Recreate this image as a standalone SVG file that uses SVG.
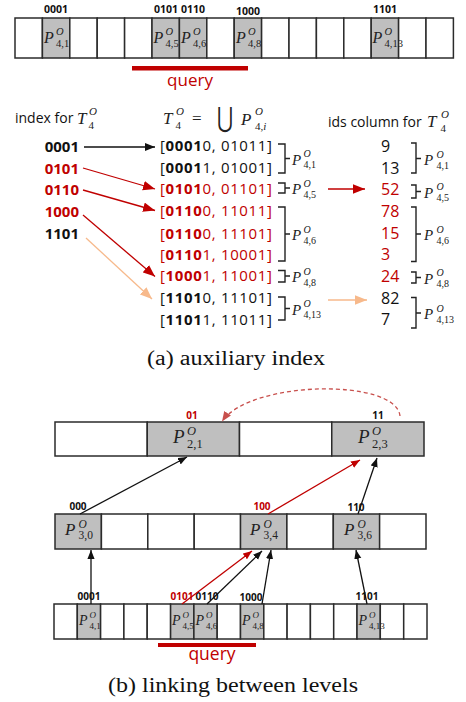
<svg xmlns="http://www.w3.org/2000/svg" width="466" height="702" viewBox="0 0 466 702">
  <style>
    .bg { fill: #ffffff; }
    .cell { fill: #ffffff; stroke: #2b2b2b; stroke-width: 1.5; }
    .cell.g { fill: #bfbfbf; }
    .bits { font-family: 'Open Sans', 'Liberation Sans', sans-serif; font-weight: bold; fill: #111; text-anchor: middle; }
    .mP { font-family: 'Liberation Serif', serif; font-style: italic; fill: #222; }
    .mS { font-family: 'Liberation Serif', serif; fill: #222; }
    .mO { font-family: 'Liberation Serif', serif; font-style: italic; fill: #222; }
    .sans { font-family: 'Open Sans', 'Liberation Sans', sans-serif; fill: #111; }
    .key { font-family: 'Open Sans', 'Liberation Sans', sans-serif; font-weight: bold; font-size: 15px; text-anchor: end; fill: #111; }
    .row { font-family: 'Open Sans', 'Liberation Sans', sans-serif; font-size: 15px; fill: #111; }
    .row .b { font-weight: bold; }
    .id { font-family: 'Open Sans', 'Liberation Sans', sans-serif; font-size: 16px; fill: #111; }
    .brk { fill: none; stroke: #222; stroke-width: 1.4; }
    .cap { font-family: 'Liberation Serif', serif; font-size: 20px; fill: #111; text-anchor: middle; }
    .ln { fill: none; stroke-width: 1.3; }
    .k { stroke: #111; }
    .r { stroke: #c00000; }
    .o { stroke: #f7b98b; }
    text.red { fill: #c00000; }
  </style>
  <defs>
    <marker id="hk" viewBox="0 0 10 8" refX="10" refY="4" markerWidth="10" markerHeight="8" markerUnits="userSpaceOnUse" orient="auto"><path d="M0,0 L10,4 L0,8 z" fill="#111"/></marker>
    <marker id="hr" viewBox="0 0 10 8" refX="10" refY="4" markerWidth="12" markerHeight="10" markerUnits="userSpaceOnUse" orient="auto"><path d="M0,0 L10,4 L0,8 z" fill="#c00000"/></marker>
    <marker id="ho" viewBox="0 0 10 8" refX="10" refY="4" markerWidth="12" markerHeight="10" markerUnits="userSpaceOnUse" orient="auto"><path d="M0,0 L10,4 L0,8 z" fill="#f7b98b"/></marker>
    <marker id="sk" viewBox="0 0 10 8" refX="10" refY="4" markerWidth="9" markerHeight="8" markerUnits="userSpaceOnUse" orient="auto"><path d="M0,0 L10,4 L0,8 z" fill="#111"/></marker>
    <marker id="sr" viewBox="0 0 10 8" refX="10" refY="4" markerWidth="9" markerHeight="8" markerUnits="userSpaceOnUse" orient="auto"><path d="M0,0 L10,4 L0,8 z" fill="#c00000"/></marker>
    <marker id="sd" viewBox="0 0 10 8" refX="10" refY="4" markerWidth="10" markerHeight="9" markerUnits="userSpaceOnUse" orient="auto"><path d="M0,0 L10,4 L0,8 z" fill="#c8504d"/></marker>
  </defs>
  <rect class="bg" x="0" y="0" width="466" height="702"/>

  <!-- (a) level-4 partition array -->
  <g id="top-array">
    <rect class="cell" x="15" y="18" width="27.4" height="40"/>
    <rect class="cell g" x="42.4" y="18" width="27.4" height="40"/>
    <rect class="cell" x="69.8" y="18" width="27.4" height="40"/>
    <rect class="cell" x="97.2" y="18" width="27.4" height="40"/>
    <rect class="cell" x="124.6" y="18" width="27.4" height="40"/>
    <rect class="cell g" x="152" y="18" width="27.4" height="40"/>
    <rect class="cell g" x="179.4" y="18" width="27.4" height="40"/>
    <rect class="cell" x="206.8" y="18" width="27.4" height="40"/>
    <rect class="cell g" x="234.2" y="18" width="27.4" height="40"/>
    <rect class="cell" x="261.6" y="18" width="27.4" height="40"/>
    <rect class="cell" x="289" y="18" width="27.4" height="40"/>
    <rect class="cell" x="316.4" y="18" width="27.4" height="40"/>
    <rect class="cell" x="343.8" y="18" width="27.4" height="40"/>
    <rect class="cell g" x="371.2" y="18" width="27.4" height="40"/>
    <rect class="cell" x="398.6" y="18" width="27.4" height="40"/>
    <rect class="cell" x="426" y="18" width="27.4" height="40"/>

    <text class="bits" font-size="10.5" x="56" y="13">0001</text>
    <text class="bits" font-size="10.5" x="166" y="13">0101</text>
    <text class="bits" font-size="10.5" x="193" y="13">0110</text>
    <text class="bits" font-size="10.5" x="248" y="15">1000</text>
    <text class="bits" font-size="10.5" x="385" y="13">1101</text>

    <text class="mP" font-size="16" x="44" y="43">P</text><text class="mO" font-size="10.5" x="56" y="35">O</text><text class="mS" font-size="10.5" x="56" y="47">4,1</text>
    <text class="mP" font-size="16" x="153.5" y="43">P</text><text class="mO" font-size="10.5" x="165.5" y="35">O</text><text class="mS" font-size="10.5" x="165.5" y="47">4,5</text>
    <text class="mP" font-size="16" x="181" y="43">P</text><text class="mO" font-size="10.5" x="193" y="35">O</text><text class="mS" font-size="10.5" x="193" y="47">4,6</text>
    <text class="mP" font-size="16" x="236" y="43">P</text><text class="mO" font-size="10.5" x="248" y="35">O</text><text class="mS" font-size="10.5" x="248" y="47">4,8</text>
    <text class="mP" font-size="16" x="372.5" y="43">P</text><text class="mO" font-size="10.5" x="384.5" y="35">O</text><text class="mS" font-size="10.5" x="384.5" y="47">4,13</text>
  </g>
  <g id="top-query">
    <rect x="132" y="66" width="116" height="4.5" fill="#c00000"/>
    <text class="sans red" font-size="17" x="190" y="86" text-anchor="middle">query</text>
  </g>

  <!-- (a) headers -->
  <g id="hdr-index">
    <text class="sans" font-size="14" x="15" y="123">index for</text>
    <text class="mP" font-size="17" x="77" y="124">T</text><text class="mO" font-size="11" x="89" y="115">O</text><text class="mS" font-size="11" x="88.5" y="129">4</text>
  </g>
  <g id="hdr-union">
    <text class="mP" font-size="17" x="163" y="124">T</text><text class="mO" font-size="11" x="176" y="115">O</text><text class="mS" font-size="11" x="175.5" y="129">4</text>
    <text class="mS" font-size="17" x="192" y="124">=</text>
    <text transform="translate(217,127) scale(0.7,1)" font-family="'DejaVu Sans', sans-serif" font-size="28" fill="#222">⋃</text>
    <text class="mP" font-size="17" x="241" y="125">P</text><text class="mO" font-size="11" x="255" y="115">O</text><text class="mS" font-size="11" x="255" y="130">4,<tspan font-style="italic">i</tspan></text>
  </g>
  <g id="hdr-ids">
    <text class="sans" font-size="14" x="328" y="127">ids column for</text>
    <text class="mP" font-size="17" x="427" y="127">T</text><text class="mO" font-size="11" x="441" y="118">O</text><text class="mS" font-size="11" x="440.5" y="132">4</text>
  </g>

  <!-- (a) index keys -->
  <g id="keys">
    <text class="key" x="79" y="152">0001</text>
    <text class="key red" x="79" y="173.5">0101</text>
    <text class="key red" x="79" y="195">0110</text>
    <text class="key red" x="79" y="217">1000</text>
    <text class="key" x="79" y="239">1101</text>
  </g>

  <!-- (a) ranges of T4 -->
  <g id="ranges">
    <text class="row" x="160" y="151" textLength="112">[<tspan class="b">0001</tspan>0, 01011]</text>
    <text class="row" x="160" y="172.7" textLength="112">[<tspan class="b">0001</tspan>1, 01001]</text>
    <text class="row red" x="160" y="194.4" textLength="112">[<tspan class="b">0101</tspan>0, 01101]</text>
    <text class="row red" x="160" y="216.1" textLength="112">[<tspan class="b">0110</tspan>0, 11011]</text>
    <text class="row red" x="160" y="238.5" textLength="112">[<tspan class="b">0110</tspan>0, 11101]</text>
    <text class="row red" x="160" y="259.8" textLength="112">[<tspan class="b">0110</tspan>1, 10001]</text>
    <text class="row red" x="160" y="281.2" textLength="112">[<tspan class="b">1000</tspan>1, 11001]</text>
    <text class="row" x="160" y="303.2" textLength="112">[<tspan class="b">1101</tspan>0, 11101]</text>
    <text class="row" x="160" y="324.6" textLength="112">[<tspan class="b">1101</tspan>1, 11011]</text>
  </g>
  <g id="range-groups">
    <path class="brk" d="M278,144 H285 V173 H278 M285,158.5 H290"/>
    <path class="brk" d="M278,183 H285 V193 H278 M285,188 H290"/>
    <path class="brk" d="M278,207 H285 V261 H278 M285,234 H290"/>
    <path class="brk" d="M278,270.5 H285 V282 H278 M285,276 H290"/>
    <path class="brk" d="M278,297 H285 V320 H278 M285,308.5 H290"/>
    <text class="mP" font-size="15" x="292" y="164.5">P</text><text class="mO" font-size="10" x="303.5" y="157">O</text><text class="mS" font-size="10" x="303.5" y="168">4,1</text>
    <text class="mP" font-size="15" x="292" y="194">P</text><text class="mO" font-size="10" x="303.5" y="186.5">O</text><text class="mS" font-size="10" x="303.5" y="197.5">4,5</text>
    <text class="mP" font-size="15" x="292" y="240">P</text><text class="mO" font-size="10" x="303.5" y="232.5">O</text><text class="mS" font-size="10" x="303.5" y="243.5">4,6</text>
    <text class="mP" font-size="15" x="292" y="282">P</text><text class="mO" font-size="10" x="303.5" y="274.5">O</text><text class="mS" font-size="10" x="303.5" y="285.5">4,8</text>
    <text class="mP" font-size="15" x="292" y="314.5">P</text><text class="mO" font-size="10" x="303.5" y="307">O</text><text class="mS" font-size="10" x="303.5" y="318">4,13</text>
  </g>

  <!-- (a) ids column -->
  <g id="ids">
    <text class="id" x="381" y="152">9</text>
    <text class="id" x="381" y="173.5">13</text>
    <text class="id red" x="381" y="195">52</text>
    <text class="id red" x="381" y="216.5">78</text>
    <text class="id red" x="381" y="238.5">15</text>
    <text class="id red" x="381" y="260">3</text>
    <text class="id red" x="381" y="281.5">24</text>
    <text class="id" x="381" y="303.5">82</text>
    <text class="id" x="381" y="325">7</text>
  </g>
  <g id="id-groups">
    <path class="brk" d="M411,143 H416 V173 H411 M416,158.5 H421"/>
    <path class="brk" d="M411,185 H416 V198 H411 M416,191.5 H421"/>
    <path class="brk" d="M411,207 H416 V261.5 H411 M416,234 H421"/>
    <path class="brk" d="M411,272 H416 V283 H411 M416,277.5 H421"/>
    <path class="brk" d="M411,297.5 H416 V328 H411 M416,313 H421"/>
    <text class="mP" font-size="15" x="424" y="165">P</text><text class="mO" font-size="10" x="436.5" y="157.5">O</text><text class="mS" font-size="10" x="436.5" y="168.5">4,1</text>
    <text class="mP" font-size="15" x="424" y="197.5">P</text><text class="mO" font-size="10" x="436.5" y="190">O</text><text class="mS" font-size="10" x="436.5" y="201">4,5</text>
    <text class="mP" font-size="15" x="424" y="240">P</text><text class="mO" font-size="10" x="436.5" y="232.5">O</text><text class="mS" font-size="10" x="436.5" y="243.5">4,6</text>
    <text class="mP" font-size="15" x="424" y="283.5">P</text><text class="mO" font-size="10" x="436.5" y="276">O</text><text class="mS" font-size="10" x="436.5" y="287">4,8</text>
    <text class="mP" font-size="15" x="424" y="319">P</text><text class="mO" font-size="10" x="436.5" y="311.5">O</text><text class="mS" font-size="10" x="436.5" y="322.5">4,13</text>
  </g>

  <!-- (a) lookup arrows -->
  <g id="index-connectors">
    <line class="ln k" x1="84" y1="147" x2="155" y2="147" marker-end="url(#hk)"/>
    <line class="ln r" x1="83" y1="168" x2="155" y2="189" marker-end="url(#hr)"/>
    <line class="ln r" x1="83" y1="190" x2="155" y2="210.5" marker-end="url(#hr)"/>
    <line class="ln r" x1="83" y1="215" x2="155" y2="276.5" marker-end="url(#hr)"/>
    <line class="ln o" x1="86" y1="238" x2="152" y2="299" marker-end="url(#ho)"/>
    <line class="ln r" x1="328" y1="189" x2="365" y2="189" marker-end="url(#hr)"/>
    <line class="ln o" x1="328" y1="300" x2="367" y2="300" marker-end="url(#ho)"/>
  </g>

  <text class="cap" x="236" y="365" textLength="178" lengthAdjust="spacingAndGlyphs">(a) auxiliary index</text>

  <!-- (b) level 2 -->
  <g id="level2">
    <rect class="cell" x="55" y="422" width="92.25" height="34"/>
    <rect class="cell g" x="147.25" y="422" width="92.25" height="34"/>
    <rect class="cell" x="239.5" y="422" width="92.25" height="34"/>
    <rect class="cell g" x="331.75" y="422" width="92.25" height="34"/>
    <text class="bits red" font-size="10" x="192" y="419">01</text>
    <text class="bits" font-size="10" x="378" y="419">11</text>
    <text class="mP" font-size="19" x="173" y="443">P</text><text class="mO" font-size="12.5" x="187" y="435">O</text><text class="mS" font-size="12.5" x="187" y="448">2,1</text>
    <text class="mP" font-size="19" x="358" y="443">P</text><text class="mO" font-size="12.5" x="372" y="435">O</text><text class="mS" font-size="12.5" x="372" y="448">2,3</text>
  </g>

  <!-- (b) level 3 -->
  <g id="level3">
    <rect class="cell g" x="55" y="514" width="46.4" height="35"/>
    <rect class="cell" x="101.4" y="514" width="46.4" height="35"/>
    <rect class="cell" x="147.8" y="514" width="46.4" height="35"/>
    <rect class="cell" x="194.2" y="514" width="46.4" height="35"/>
    <rect class="cell g" x="240.5" y="514" width="46.4" height="35"/>
    <rect class="cell" x="286.9" y="514" width="46.4" height="35"/>
    <rect class="cell g" x="333.3" y="514" width="46.4" height="35"/>
    <rect class="cell" x="379.6" y="514" width="46.4" height="35"/>
    <text class="bits" font-size="10" x="78" y="510">000</text>
    <text class="bits red" font-size="10" x="262" y="510">100</text>
    <text class="bits" font-size="10" x="356" y="511">110</text>
    <text class="mP" font-size="17" x="65" y="535">P</text><text class="mO" font-size="11.5" x="78.5" y="527.5">O</text><text class="mS" font-size="11.5" x="78.5" y="539">3,0</text>
    <text class="mP" font-size="17" x="250" y="535">P</text><text class="mO" font-size="11.5" x="263.5" y="527.5">O</text><text class="mS" font-size="11.5" x="263.5" y="539">3,4</text>
    <text class="mP" font-size="17" x="344" y="535">P</text><text class="mO" font-size="11.5" x="357.5" y="527.5">O</text><text class="mS" font-size="11.5" x="357.5" y="539">3,6</text>
  </g>

  <!-- (b) level 4 -->
  <g id="level4">
    <rect class="cell" x="54" y="604" width="23.3" height="35"/>
    <rect class="cell g" x="77.3" y="604" width="23.3" height="35"/>
    <rect class="cell" x="100.6" y="604" width="23.3" height="35"/>
    <rect class="cell" x="123.9" y="604" width="23.3" height="35"/>
    <rect class="cell" x="147.2" y="604" width="23.4" height="35"/>
    <rect class="cell g" x="170.6" y="604" width="23.3" height="35"/>
    <rect class="cell g" x="193.9" y="604" width="23.3" height="35"/>
    <rect class="cell" x="217.2" y="604" width="23.3" height="35"/>
    <rect class="cell g" x="240.5" y="604" width="23.3" height="35"/>
    <rect class="cell" x="263.8" y="604" width="23.3" height="35"/>
    <rect class="cell" x="287.1" y="604" width="23.3" height="35"/>
    <rect class="cell" x="310.4" y="604" width="23.3" height="35"/>
    <rect class="cell" x="333.7" y="604" width="23.3" height="35"/>
    <rect class="cell g" x="357" y="604" width="23.3" height="35"/>
    <rect class="cell" x="380.3" y="604" width="23.4" height="35"/>
    <rect class="cell" x="403.7" y="604" width="23.3" height="35"/>
    <text class="bits" font-size="10" x="89" y="600">0001</text>
    <text class="bits red" font-size="10" x="182" y="600">0101</text>
    <text class="bits" font-size="10" x="207" y="600">0110</text>
    <text class="bits" font-size="10" x="251" y="601">1000</text>
    <text class="bits" font-size="10" x="367" y="600">1101</text>
    <text class="mP" font-size="14" x="79" y="625">P</text><text class="mO" font-size="9" x="89.5" y="618">O</text><text class="mS" font-size="9" x="89.5" y="629">4,1</text>
    <text class="mP" font-size="14" x="172" y="625">P</text><text class="mO" font-size="9" x="182.5" y="618">O</text><text class="mS" font-size="9" x="182.5" y="629">4,5</text>
    <text class="mP" font-size="14" x="195.5" y="625">P</text><text class="mO" font-size="9" x="206" y="618">O</text><text class="mS" font-size="9" x="206" y="629">4,6</text>
    <text class="mP" font-size="14" x="242" y="625">P</text><text class="mO" font-size="9" x="252.5" y="618">O</text><text class="mS" font-size="9" x="252.5" y="629">4,8</text>
    <text class="mP" font-size="14" x="358.5" y="625">P</text><text class="mO" font-size="9" x="369" y="618">O</text><text class="mS" font-size="9" x="369" y="629">4,13</text>
  </g>
  <g id="bottom-query">
    <rect x="158" y="643" width="98" height="4" fill="#c00000"/>
    <text class="sans red" font-size="17.5" x="212" y="660" text-anchor="middle">query</text>
  </g>

  <!-- (b) links between levels -->
  <g id="level-connectors">
    <path class="ln" d="M400,416 C396,378 250,380 222,421.5" stroke="#c8504d" stroke-dasharray="4,3" marker-end="url(#sd)"/>
    <line class="ln k" x1="80" y1="514" x2="187" y2="457" marker-end="url(#sk)"/>
    <line class="ln r" x1="268" y1="514" x2="360" y2="460" marker-end="url(#sr)"/>
    <line class="ln k" x1="358" y1="514" x2="377" y2="458" marker-end="url(#sk)"/>
    <line class="ln k" x1="91" y1="604" x2="91" y2="550" marker-end="url(#sk)"/>
    <line class="ln r" x1="182" y1="604" x2="252" y2="551" marker-end="url(#sr)"/>
    <line class="ln k" x1="207" y1="604" x2="262" y2="551" marker-end="url(#sk)"/>
    <line class="ln k" x1="262" y1="604" x2="271" y2="550" marker-end="url(#sk)"/>
    <line class="ln k" x1="367" y1="604" x2="356" y2="550" marker-end="url(#sk)"/>
  </g>

  <text class="cap" x="233" y="692" textLength="250" lengthAdjust="spacingAndGlyphs">(b) linking between levels</text>
</svg>
